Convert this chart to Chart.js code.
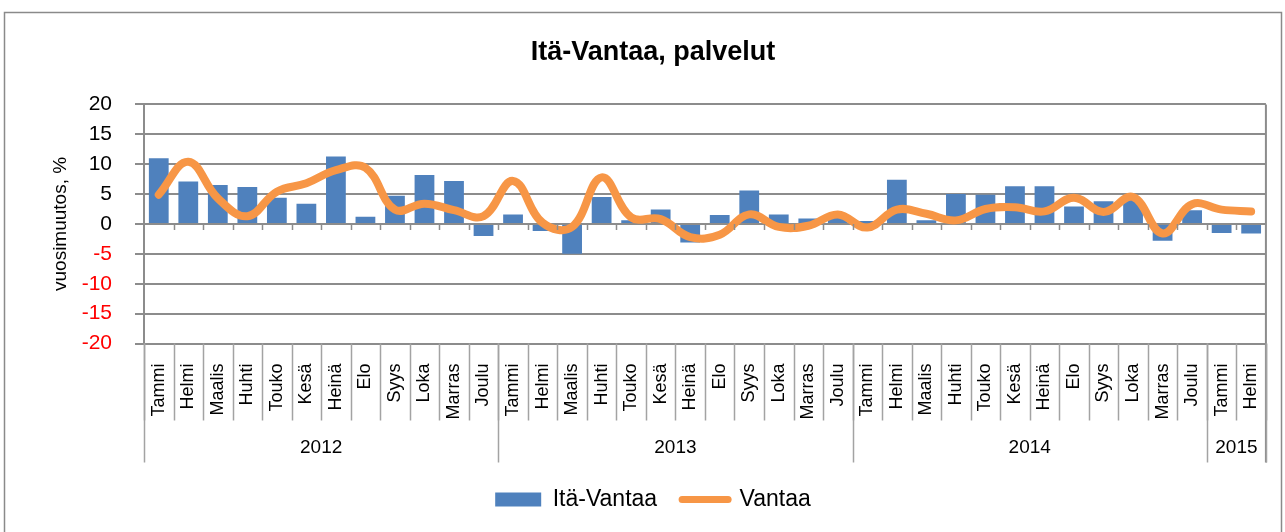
<!DOCTYPE html>
<html>
<head>
<meta charset="utf-8">
<script src="https://cdn.jsdelivr.net/npm/chart.js@4.4.1/dist/chart.umd.min.js"></script>
<style>
html,body{margin:0;padding:0;background:#fff;}
#wrap{position:absolute;left:0;top:0;width:1285px;height:532px;}
</style>
</head>
<body>
<div id="wrap"><canvas id="c" width="1285" height="532"></canvas></div>
<script>
// ---- data ----
const monthNames = ['Tammi','Helmi','Maalis','Huhti','Touko','Kesä','Heinä','Elo','Syys','Loka','Marras','Joulu'];
const categories = [...monthNames, ...monthNames, ...monthNames, 'Tammi', 'Helmi'];
const years = ['2012', '2013', '2014', '2015'];
const yearCounts = [12, 12, 12, 2];
const itaVantaa = [
  11.0, 7.1, 6.5, 6.2, 4.4, 3.4, 11.3, 1.2, 4.7, 8.2, 7.2, -2.0,
  1.6, -1.2, -5.0, 4.5, 0.6, 2.4, -3.1, 1.5, 5.6, 1.6, 0.9, 1.0,
  0.5, 7.4, 0.6, 5.0, 4.9, 6.3, 6.3, 2.9, 3.8, 4.0, -2.8, 2.3,
  -1.5, -1.6
];
const vantaa = [
  4.9, 10.4, 4.3, 1.3, 5.4, 6.8, 9.0, 9.4, 2.4, 3.4, 2.3, 1.3,
  7.2, 0.2, -0.5, 7.8, 1.1, 0.8, -2.2, -1.8, 1.6, -0.5, -0.3, 1.6,
  -0.6, 2.4, 1.7, 0.6, 2.5, 2.8, 2.1, 4.4, 2.0, 4.5, -1.6, 3.3,
  2.4, 2.1
];
const yTicks = { min: -20, max: 20, step: 5 };

const FONT = "'Liberation Sans', Arial, sans-serif";
const GRID = '#8c8c8c';
const SEP = '#a3a3a3';

const decor = {
  id: 'decor',
  beforeDraw(chart) {
    const ctx = chart.ctx;
    ctx.save();
    ctx.strokeStyle = '#8a8a8a';
    ctx.lineWidth = 1.5;
    ctx.strokeRect(4.5, 12.5, 1277, 600);
    ctx.restore();
  },
  afterDraw(chart) {
    const ctx = chart.ctx;
    const xs = chart.scales.x, ys = chart.scales.y;
    const area = chart.chartArea;
    const step = xs.getPixelForValue(1) - xs.getPixelForValue(0);
    const bnd = i => xs.getPixelForValue(0) - step / 2 + i * step;
    const y0 = ys.getPixelForValue(0);
    const monthBottom = area.bottom + 77;
    const yearBottom = area.bottom + 119;
    ctx.save();
    // right border of plot
    ctx.strokeStyle = GRID;
    ctx.lineWidth = 2;
    ctx.beginPath();
    ctx.moveTo(area.right, area.top);
    ctx.lineTo(area.right, yearBottom);
    ctx.stroke();
    // tick marks on zero axis
    ctx.lineWidth = 1.5;
    ctx.beginPath();
    for (let i = 1; i < categories.length; i++) {
      const x = Math.round(bnd(i)) + 0.5;
      ctx.moveTo(x, y0);
      ctx.lineTo(x, y0 + 6);
    }
    ctx.stroke();
    // month separators
    ctx.strokeStyle = SEP;
    ctx.lineWidth = 1.5;
    ctx.beginPath();
    for (let i = 0; i <= categories.length; i++) {
      const x = Math.round(bnd(i)) + 0.5;
      ctx.moveTo(x, area.bottom);
      ctx.lineTo(x, monthBottom);
    }
    ctx.stroke();
    // year separators + labels
    let acc = 0;
    ctx.beginPath();
    ctx.moveTo(Math.round(bnd(0)) + 0.5, area.bottom);
    ctx.lineTo(Math.round(bnd(0)) + 0.5, yearBottom);
    ctx.fillStyle = '#000';
    ctx.font = '19px ' + FONT;
    ctx.textAlign = 'center';
    ctx.textBaseline = 'middle';
    years.forEach((yr, k) => {
      const start = acc, end = acc + yearCounts[k];
      const xe = Math.round(bnd(end)) + 0.5;
      ctx.moveTo(xe, area.bottom);
      ctx.lineTo(xe, yearBottom);
      ctx.fillText(yr, (bnd(start) + bnd(end)) / 2, area.bottom + 104);
      acc = end;
    });
    ctx.stroke();
    ctx.restore();
  }
};

new Chart(document.getElementById('c'), {
  data: {
    labels: categories,
    datasets: [
      {
        type: 'bar',
        label: 'Itä-Vantaa',
        data: itaVantaa,
        backgroundColor: '#4F81BD',
        borderWidth: 0,
        barPercentage: 0.67,
        categoryPercentage: 1.0,
        order: 2
      },
      {
        type: 'line',
        label: 'Vantaa',
        data: vantaa,
        borderColor: '#F79646',
        backgroundColor: '#F79646',
        borderWidth: 8,
        borderCapStyle: 'round',
        borderJoinStyle: 'round',
        pointRadius: 0,
        tension: 0.4,
        fill: false,
        order: 1
      }
    ]
  },
  options: {
    responsive: false,
    animation: false,
    devicePixelRatio: 1,
    layout: { padding: { left: 40, right: 19, top: 0, bottom: 11 } },
    plugins: {
      title: {
        display: true,
        text: 'Itä-Vantaa, palvelut',
        color: '#000',
        font: { family: FONT, size: 27, weight: 'bold' },
        padding: { top: 36, bottom: 36 }
      },
      legend: {
        position: 'bottom',
        labels: {
          color: '#000',
          font: { family: FONT, size: 23 },
          usePointStyle: true,
          pointStyleWidth: 46,
          boxHeight: 14,
          padding: 25,
          generateLabels(chart) {
            const items = Chart.defaults.plugins.legend.labels.generateLabels(chart);
            items.forEach(it => {
              if (it.datasetIndex === 0) {
                it.pointStyle = 'rect';
                it.fillStyle = '#4F81BD';
                it.lineWidth = 0;
              } else {
                it.pointStyle = 'line';
                it.strokeStyle = '#F79646';
                it.lineWidth = 7;
                it.lineCap = 'round';
              }
            });
            return items.sort((a, b) => a.datasetIndex - b.datasetIndex);
          }
        }
      },
      tooltip: { enabled: false }
    },
    scales: {
      x: {
        type: 'category',
        offset: true,
        grid: { display: false },
        border: { display: false },
        ticks: {
          autoSkip: false,
          minRotation: 90,
          maxRotation: 90,
          padding: 12,
          color: '#000',
          font: { family: FONT, size: 18 }
        },
        afterFit(scale) { scale.height = 119.5; }
      },
      y: {
        type: 'linear',
        min: yTicks.min,
        max: yTicks.max,
        ticks: {
          stepSize: yTicks.step,
          padding: 23,
          color: c => (c.tick.value < 0 ? '#FF0000' : '#000'),
          font: { family: FONT, size: 21 }
        },
        grid: { color: GRID, lineWidth: 2, tickLength: 9, drawTicks: true },
        border: { display: true, color: GRID, width: 2 },
        title: {
          display: true,
          text: 'vuosimuutos, %',
          color: '#000',
          font: { family: FONT, size: 19 },
          padding: { top: 9, bottom: 0 }
        },
        afterFit(scale) { scale.width = 104; }
      }
    }
  },
  plugins: [decor]
});
</script>
</body>
</html>
